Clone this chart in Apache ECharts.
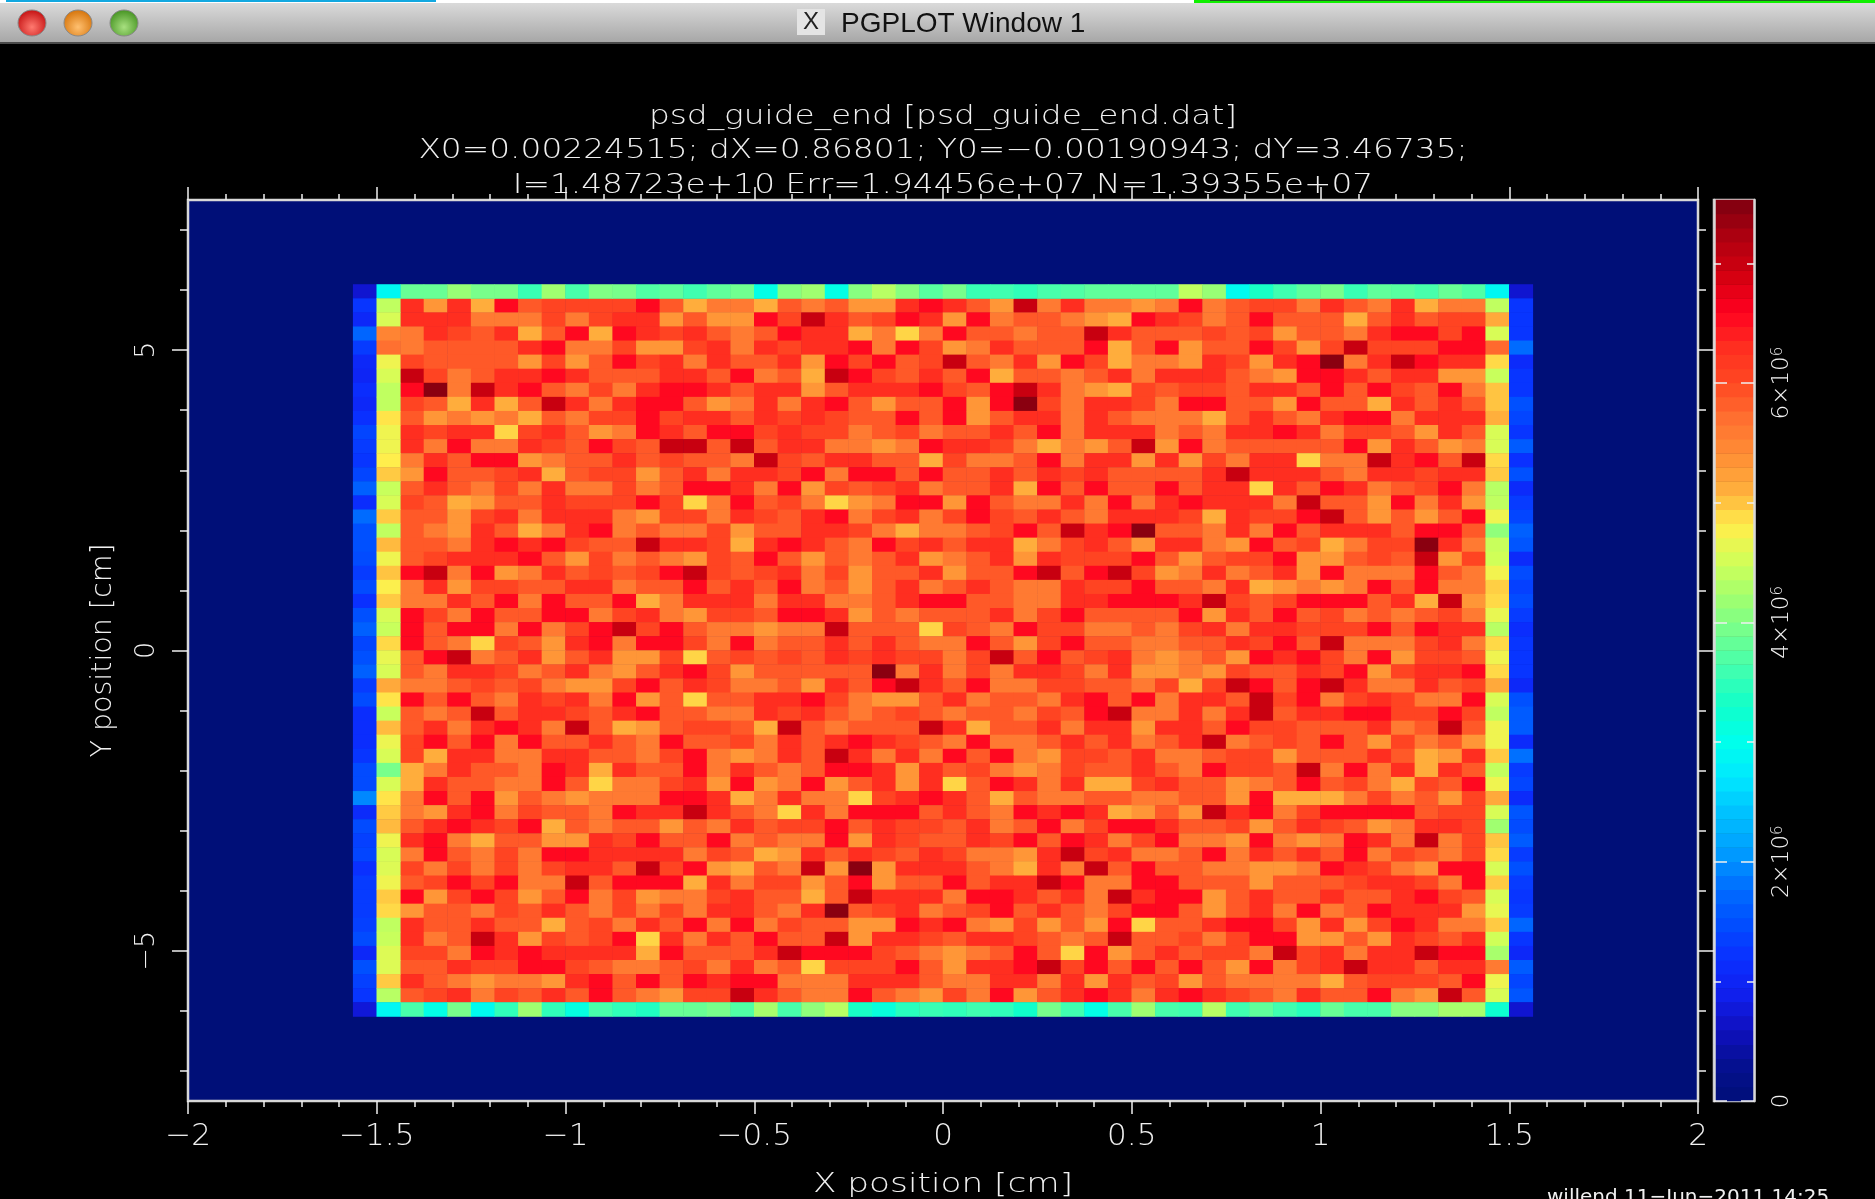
<!DOCTYPE html>
<html><head><meta charset="utf-8">
<style>html,body{margin:0;padding:0;background:#000}#c{width:1875px;height:1199px}</style>
<script src="https://cdn.jsdelivr.net/npm/echarts@6/dist/echarts.min.js"></script>
</head><body><div id="c"></div>
<script>
// value in units of 1e6 for each code digit used in the cell tables
const cellLevels=[7.45,7.0,6.55,6.3,6.05,5.87,5.6,5.33,5.12,4.92];
// rows 7..56 (top to bottom). Columns 9..22
const cellsLeft=["37382544442586","33366646433757","63453852823435","65555326647743","45555747524363","14653323555335","20613256463223","45838513632257","57676856442433","34339435762352","36266345245115","63522765535455","72554385447536","53564636646522","45875534442496","55743633367446","56735863265664","55632324551334","54333257465674","21627635454214","63744553365525","66352625528633","24625522643674","25226264214256","25694573262246","52165375377495","56334653675324","66545467742534","25256343627595","56515334532556","53632361587544","42526255356255","48336633556426","86355623835526","83556625966437","62527567666223","67326455623313","53234285655756","32685577342552","62564622333364","46464643351427","54242661522283","27424752647664","75564535646463","35535585463526","36513745429363","44623233338255","55344224566546","35676673252523","54364535256744"];
// columns 23..39
const cellsMiddle=["68565773235716366","72413542372655678","65233869625565513","63433262476355528","55372425415637248","26581245352855653","53375333245213678","63632575527204633","53434552527533635","24344654655352633","15336676233468675","61453355846652633","33426225255353435","36274543655382525","25469762272566362","34532643642453563","75533468665425132","83235624353386435","52575653765373444","54364755375521521","35265753653566344","36336653225566332","45223756555364255","67661555945624466","26553535662574255","45453434464152543","75555506364633463","66573521352664455","53324677536556325","63435654565564521","58156555138553633","46353234562665353","76351363625267445","35652237354676455","27627537395236388","86366943235856655","56936222535623238","35442534453652642","65662734553425236","58735345346673143","85617073335683615","64475275525331266","35585133362235361","35630543654253564","26455772326747572","52551733453345651","53122245676525927","36594442573321425","22666333566336373","13566256746275323"];
// columns 40..54
const cellsRight=["762654463563866","234652555853544","555454755632242","527552474144422","667347320631233","633356722353377","454453352524526","462255725583535","666853563226333","365633236445735","172655555273576","737463396613251","555313335633433","525339352365426","632333615572637","334834421575752","055636253335225","733672548644036","257544277545174","476365372666256","255638767625266","223145422253817","552735254656546","564363344425233","665534251666436","676572324627445","776745534274332","648412521366354","263351426434662","663631533224424","733524455536515","653165452574657","366544755535873","356244516263835","435576525468452","665572888646574","757132642222544","235547534576334","426672676236164","665263535264564","255667762346722","225557555433462","322753553553245","225753626523337","955322473742366","554642277573453","535446143633122","252572643133533","547566668544452","632345635526715"];
// edge rows, columns 9..54
const topRow=[3.85,3.85,4.15,3.95,3.95,3.55,4.2,3.65,4.0,3.95,3.7,3.8,3.6,3.8,3.9,3.05,4.05,4.2,3.05,4.05,4.35,4.05,3.75,3.95,3.55,3.6,3.5,3.65,3.7,3.8,3.8,3.8,3.8,4.4,4.15,2.95,3.35,3.6,3.8,3.95,3.55,3.8,3.75,3.65,3.85,3.7];
const bottomRow=[3.65,3.05,3.95,2.95,3.5,4.2,3.5,3.1,3.65,3.5,3.4,3.85,3.85,3.95,3.7,4.25,3.65,4.1,4.35,3.35,3.15,3.45,3.55,3.5,3.6,3.5,3.3,3.95,3.6,3.05,3.65,4.2,3.65,3.6,4.35,3.6,3.8,3.6,3.45,3.85,3.65,3.65,4.05,4.05,4.25,4.25];
// edge columns, rows 6..57
const col7=[0.7,1.25,1.05,1.7,1.3,1.05,1.0,1.15,1.05,1.2,1.4,1.3,1.25,1.4,1.65,1.15,1.75,1.5,1.5,1.45,1.3,1.45,1.2,1.5,1.65,1.4,1.5,1.65,1.3,1.45,1.15,1.15,1.15,1.25,1.45,1.45,1.95,1.1,1.45,1.35,1.4,1.2,1.3,1.3,1.3,1.35,1.45,1.05,1.5,1.35,1.25,0.75];
const col8=[2.9,4.4,4.55,5.5,5.7,4.7,4.55,4.4,4.4,4.85,4.7,4.7,4.8,4.97,4.45,4.55,4.97,4.4,5.05,4.7,5.0,4.78,4.97,4.55,4.45,4.9,4.65,4.55,5.15,4.85,4.45,5.05,4.68,4.55,3.95,4.55,4.85,4.97,5.05,4.7,4.55,4.58,4.7,4.97,4.9,4.4,4.45,4.58,4.58,4.97,4.35,2.9];
const col55=[2.9,4.4,5.15,4.55,5.75,4.9,4.45,5.0,5.0,5.1,4.55,4.55,4.9,4.97,4.35,4.4,4.7,4.1,4.45,4.5,4.72,4.95,4.9,4.65,4.35,4.9,4.7,4.9,5.15,4.55,4.4,4.7,4.7,4.97,4.42,4.7,5.15,4.55,4.2,5.0,4.9,4.55,4.97,4.55,4.65,4.97,4.5,4.25,5.6,4.7,4.55,3.25];
const col56=[0.7,1.25,1.25,1.25,1.75,1.1,1.25,1.25,1.5,1.4,1.25,1.6,1.2,1.5,1.1,1.3,1.4,1.65,1.55,1.1,1.45,1.35,1.45,1.3,1.15,1.25,1.25,1.25,1.05,1.5,1.6,1.6,1.1,1.8,1.3,1.4,1.1,1.55,1.45,1.6,1.3,1.5,1.3,1.25,1.3,1.7,1.25,1.05,1.6,1.4,1.55,0.7];
const jetColors=['#000f78','#051090','#1010c0','#1020f0','#0a30ff','#0050ff','#0070ff','#00a0ff','#00c0ff','#00e8ff','#00ffec','#10ffca','#40ffb0','#70ff90','#a0ff70','#d0ff58','#ffee4c','#ffaf3c','#ff8e35','#ff7030','#ff4822','#ff2e20','#ff0020','#d40010','#b00010','#820010'];
const xMajor=[-2,-1.5,-1,-0.5,0,0.5,1,1.5,2];
const yMajor=[-5,0,5];
const barMajor=[0,2,4,6];
const barMinor=[1,3,5,7];
const titleLines=['psd_guide_end [psd_guide_end.dat]','X0=0.00224515; dX=0.86801; Y0=\u22120.00190943; dY=3.46735;','I=1.48723e+10 Err=1.94456e+07 N=1.39355e+07'];

const nBins=64, barMax=7.53;
const idx=Array.from({length:nBins},(_,i)=>i);
const cells=[];
cellsLeft.forEach((_,r)=>{
  const s=cellsLeft[r]+cellsMiddle[r]+cellsRight[r];
  for(let c=0;c<s.length;c++) cells.push([c+9,r+7,cellLevels[+s[c]]]);
});
topRow.forEach((v,i)=>cells.push([i+9,6,v]));
bottomRow.forEach((v,i)=>cells.push([i+9,57,v]));
[[7,col7],[8,col8],[55,col55],[56,col56]].forEach(([c,a])=>a.forEach((v,i)=>cells.push([c,i+6,v])));
const barCells=idx.map(i=>[0,i,(i+0.5)/nBins*barMax]);

const xMinor=[];for(let i=-20;i<=20;i++) if(i%5) xMinor.push(i/10);
const yMinor=[];for(let i=-7;i<=7;i++) if(i%5) yMinor.push(i);

const ink='#f0f0f0', frame='#d8d8d8';
const font='"DejaVu Sans"';
const minus=v=>String(v).replace('-','\u2212');
function valAxis(kind,extra){
  return Object.assign({type:'value',gridIndex:0,axisLine:{show:false,onZero:false},splitLine:{show:false},axisLabel:{show:false},axisTick:{show:false},z:10},extra);
}
function ticks(vals,len,inside){return {show:true,customValues:vals,length:len,inside:!!inside,lineStyle:{color:ink,width:1.5}};}
const labelX={show:true,customValues:xMajor,color:ink,fontFamily:font,fontWeight:200,fontSize:31,margin:20,formatter:minus};
const labelY={show:true,customValues:yMajor,color:ink,fontFamily:font,fontWeight:200,fontSize:27,rotate:90,margin:28,formatter:minus};

const xAxes=[
 {type:'category',gridIndex:0,show:false,data:idx},
 valAxis('x',{position:'bottom',min:-2,max:2,axisTick:ticks(xMajor,13),axisLabel:labelX}),
 valAxis('x',{position:'bottom',min:-2,max:2,axisTick:ticks(xMinor,6)}),
 valAxis('x',{position:'top',min:-2,max:2,axisTick:ticks(xMajor,13)}),
 valAxis('x',{position:'top',min:-2,max:2,axisTick:ticks(xMinor,6)}),
 {type:'category',gridIndex:1,show:false,data:[0]}
];
const barLine={show:true,onZero:false,lineStyle:{color:frame,width:2.5}};
const yAxes=[
 {type:'category',gridIndex:0,show:false,inverse:true,data:idx},
 valAxis('y',{position:'left',min:-7.5,max:7.5,axisTick:ticks(yMajor,16),axisLabel:labelY,name:'Y position [cm]',nameLocation:'middle',nameRotate:90,nameGap:70,nameTextStyle:{color:ink,fontFamily:font,fontWeight:200,fontSize:28.5}}),
 valAxis('y',{position:'left',min:-7.5,max:7.5,axisTick:ticks(yMinor,8)}),
 valAxis('y',{position:'right',min:-7.5,max:7.5,axisTick:ticks(yMajor,16)}),
 valAxis('y',{position:'right',min:-7.5,max:7.5,axisTick:ticks(yMinor,8)}),
 {type:'category',gridIndex:1,show:false,data:idx},
 valAxis('y',{gridIndex:1,position:'left',min:0,max:barMax,axisLine:barLine,axisTick:ticks(barMajor,13,true)}),
 valAxis('y',{gridIndex:1,position:'left',min:0,max:barMax,axisTick:ticks(barMinor,7,true)}),
 valAxis('y',{gridIndex:1,position:'right',min:0,max:barMax,axisLine:barLine,axisTick:ticks(barMajor,13,true),
   axisLabel:{show:true,customValues:barMajor,rotate:90,margin:17,color:ink,fontFamily:font,fontWeight:200,
     formatter:v=>v===0?'{m|0}':'{m|'+v+'\u00d710}{s|6}',
     rich:{m:{fontSize:23,color:ink,fontFamily:font,fontWeight:200},s:{fontSize:15,color:ink,fontFamily:font,fontWeight:200,verticalAlign:'top',padding:[0,0,8,0]}}}}),
 valAxis('y',{gridIndex:1,position:'right',min:0,max:barMax,axisTick:ticks(barMinor,7,true)})
];
const grey=(x,y,w,h,fill)=>({type:'rect',silent:true,shape:{x,y,width:w,height:h},style:{fill}});
const lamp=(cx,c1,c2)=>({type:'ellipse',silent:true,shape:{cx,cy:23,rx:14,ry:13},style:{fill:{type:'radial',x:0.5,y:0.65,r:0.6,colorStops:[{offset:0,color:c1},{offset:1,color:c2}]},stroke:'#888',lineWidth:1}});
const wideText=(text,x,y,sx)=>({type:'text',silent:true,x,y,scaleX:sx,z:20,style:{text,x:0,y:0,fill:ink,font:'200 27px "DejaVu Sans"',align:'center',verticalAlign:'middle'}});
const option={
 backgroundColor:'#000',animation:false,
 title:[
  {text:'willend 11\u2212Jun\u22122011 14:25',left:1547,top:1188,padding:0,textStyle:{color:ink,fontFamily:font,fontWeight:'normal',fontSize:20}}
 ],
 grid:[
  {left:188,top:200,width:1510,height:901,show:true,backgroundColor:'#000f78',borderColor:frame,borderWidth:2.5,outerBoundsMode:'none'},
  {left:1714,top:200,width:40,height:901,show:true,backgroundColor:'#000',borderColor:frame,borderWidth:2.5,outerBoundsMode:'none'}
 ],
 xAxis:xAxes,yAxis:yAxes,
 visualMap:{show:false,type:'continuous',min:0,max:7.5,dimension:2,seriesIndex:[0,1],inRange:{color:jetColors}},
 series:[
  {type:'heatmap',xAxisIndex:0,yAxisIndex:0,data:cells,silent:true,progressive:0,itemStyle:{borderWidth:0}},
  {type:'heatmap',xAxisIndex:5,yAxisIndex:5,data:barCells,silent:true,progressive:0,itemStyle:{borderWidth:0}}
 ],
 graphic:[
  grey(0,0,1194,3,'#fff'),grey(6,0,430,2,'#12a8e0'),grey(1194,0,681,3,'#10f000'),grey(1210,0,640,1,'#206020'),
  {type:'rect',silent:true,shape:{x:0,y:3,width:1875,height:40},style:{fill:{type:'linear',x:0,y:0,x2:0,y2:1,colorStops:[{offset:0,color:'#dadada'},{offset:1,color:'#a6a6a6'}]}}},
  grey(0,42,1875,2,'#4a4a4a'),
  lamp(32,'#ff7a70','#c81818'),lamp(78,'#ffc070','#d87810'),lamp(124,'#a8e080','#4c9828'),
  grey(797,9,28,26,'#e4e4e4'),
  {type:'text',silent:true,style:{x:811,y:22,text:'X',fill:'#222',font:'24px "Liberation Sans"',align:'center',verticalAlign:'middle'}},
  {type:'text',silent:true,style:{x:841,y:24,text:'PGPLOT Window 1',fill:'#111',font:'28px "Liberation Sans"',align:'left',verticalAlign:'middle'}},
  wideText(titleLines[0],943,117,1.215),
  wideText(titleLines[1],943,151,1.215),
  wideText(titleLines[2],943,186,1.215),
  wideText('X position [cm]',943,1185,1.27)
 ]
};
const chart=echarts.init(document.getElementById('c'),null,{renderer:'canvas'});
chart.setOption(option);
</script></body></html>
